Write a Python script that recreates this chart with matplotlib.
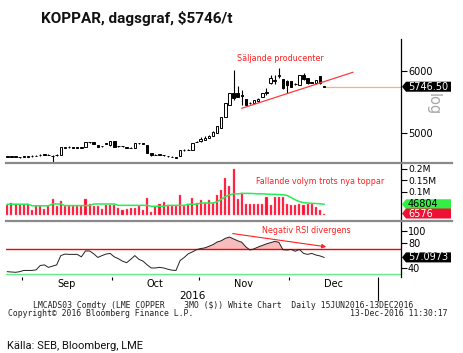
import matplotlib
matplotlib.use("Agg")
import matplotlib.pyplot as plt
import matplotlib.transforms as mtransforms
from matplotlib.patches import Polygon
from matplotlib.lines import Line2D
import numpy as np

# daily LME copper 3M, 25 Aug - 13 Dec 2016
opens = [4615, 4620, 4615, 4612, 4620, 4618, 4625, 4630, 4640, 4655,
         4650, 4635, 4640, 4650, 4765, 4770, 4775, 4768, 4760, 4780,
         4850, 4850, 4800, 4785, 4830, 4800, 4870, 4792, 4790, 4768,
         4760, 4760, 4838, 4830, 4806, 4670, 4648, 4650, 4642, 4628,
         4618, 4607, 4635, 4725, 4728, 4730, 4855, 4870, 4895, 4925,
         4950, 5005, 5090, 5263, 5452, 5640, 5640, 5610, 5545, 5490,
         5480, 5510, 5585, 5650, 5800, 5840, 5915, 5866, 5830, 5830,
         5795, 5775, 5935, 5880, 5815, 5800, 5910, 5750]
closes = [4620, 4615, 4620, 4610, 4625, 4620, 4630, 4635, 4650, 4650,
          4645, 4630, 4645, 4765, 4770, 4775, 4765, 4760, 4765, 4850,
          4850, 4830, 4775, 4790, 4834, 4870, 4780, 4790, 4785, 4760,
          4760, 4840, 4835, 4825, 4675, 4645, 4650, 4655, 4640, 4625,
          4615, 4605, 4725, 4725, 4730, 4830, 4860, 4900, 4920, 4950,
          5020, 5110, 5250, 5480, 5640, 5560, 5585, 5600, 5452, 5480,
          5530, 5540, 5640, 5665, 5880, 5855, 5930, 5720, 5775, 5750,
          5790, 5935, 5880, 5800, 5810, 5855, 5800, 5746.5]
highs = [4630, 4625, 4628, 4620, 4632, 4628, 4638, 4645, 4660, 4662,
         4655, 4640, 4655, 4770, 4780, 4785, 4775, 4770, 4772, 4855,
         4860, 4855, 4805, 4798, 4845, 4875, 4875, 4798, 4795, 4772,
         4768, 4845, 4845, 4835, 4810, 4675, 4660, 4662, 4650, 4635,
         4625, 4612, 4730, 4735, 4740, 4835, 4870, 4935, 4945, 4970,
         5025, 5115, 5265, 5485, 5645, 6016, 5750, 5694, 5550, 5505,
         5535, 5565, 5645, 5720, 5935, 5935, 6043, 5870, 5855, 5835,
         5800, 5940, 5960, 5885, 5825, 5860, 5915, 5755]
lows = [4605, 4605, 4608, 4600, 4612, 4610, 4618, 4622, 4635, 4640,
        4638, 4540, 4632, 4645, 4755, 4765, 4758, 4752, 4755, 4775,
        4840, 4825, 4770, 4780, 4825, 4795, 4775, 4782, 4778, 4752,
        4752, 4755, 4828, 4818, 4670, 4635, 4640, 4645, 4632, 4618,
        4605, 4595, 4630, 4715, 4720, 4725, 4850, 4855, 4885, 4915,
        4945, 5000, 5075, 5255, 5445, 5532, 5575, 5452, 5445, 5465,
        5475, 5495, 5580, 5613, 5795, 5790, 5880, 5715, 5640, 5745,
        5780, 5770, 5855, 5795, 5800, 5795, 5795, 5740]

volume = [43, 51, 50, 45, 42, 42, 21, 38, 38, 27,
          40, 68, 40, 59, 38, 38, 38, 38, 38, 71,
          46, 38, 41, 28, 45, 45, 42, 30, 22, 25,
          30, 30, 40, 20, 73, 15, 33, 46, 58, 38,
          38, 38, 88, 38, 45, 72, 54, 64, 54, 64,
          54, 87, 109, 160, 126, 199, 68, 94, 49, 49,
          47, 47, 49, 77, 44, 77, 80, 80, 49, 44,
          42, 47, 45, 47, 49, 35, 23, 6.576]  # thousands
vol_ma = [47, 47, 47, 47, 47, 47, 40, 40, 40, 40,
          40, 48, 48, 48, 41, 41, 41, 41, 41, 41,
          41, 48, 48, 48, 48, 48, 48, 42, 42, 42,
          42, 42, 42, 42, 42, 38, 38, 38, 38, 42,
          42, 42, 42, 42, 47, 47, 47, 52, 52, 52,
          52, 58, 68, 80, 87, 92, 92, 94, 94, 94,
          93, 92, 92, 91, 90, 90, 89, 88, 85, 76,
          66, 58, 54, 52, 51, 50, 49, 46.8]
rsi = [34, 33.5, 33, 34, 36, 36, 36, 37, 44, 45,
       41, 43, 45, 60, 62.5, 62, 62, 62, 58, 67.5,
       67.5, 63, 57, 60, 62.5, 63.5, 58, 55, 51, 48.5,
       54, 60, 54, 51, 45, 40, 40, 41, 40, 38,
       36.5, 36, 52, 57, 63, 66, 69.7, 71.4, 72.5, 75,
       77.8, 82, 84, 88, 90, 87, 84, 81.6, 74, 69,
       71, 74, 76.5, 79, 81, 83, 81.6, 69.5, 69, 70,
       67, 70, 63.6, 62, 63.6, 61, 59.5, 57.0973]

month_edges = [3.5, 25.5, 46.5, 68.5, 90.0]
month_names = ["Sep", "Oct", "Nov", "Dec"]

W, H = 464, 353
fig = plt.figure(figsize=(W / 100, H / 100), dpi=100)
fig.patch.set_facecolor("white")


def px_axes(x0, y0, x1, y1):
    return fig.add_axes([x0 / W, 1 - y1 / H, (x1 - x0) / W, (y1 - y0) / H])


ax1 = px_axes(6, 39, 401, 163)
ax2 = px_axes(6, 163, 401, 221)
ax3 = px_axes(6, 221, 401, 277)

xlim = (-0.32, 95.7)
for ax in (ax1, ax2, ax3):
    ax.set_xlim(*xlim)
    for s in ("left", "top", "bottom"):
        ax.spines[s].set_visible(False)
    ax.spines["right"].set_linewidth(0.9)
    ax.yaxis.tick_right()
    ax.tick_params(axis="y", direction="out", length=4, width=0.8,
                   labelsize=7, pad=1)
    ax.set_facecolor("white")

# candles
x = np.arange(len(closes))
o = np.array(opens); c = np.array(closes)
up = c >= o
ax1.vlines(x, lows, highs, color="black", lw=0.8, zorder=2)
ax1.bar(x, np.abs(c - o) + 3, bottom=np.minimum(o, c) - 1.5, width=0.6,
        color=np.where(up, "white", "black"), edgecolor="black", lw=0.7, zorder=3)
ax1.set_ylim(4516, 6516)
ax1.set_yticks([5000, 6000])
ax1.set_xticks([])
ax1.hlines(closes[-1], x[-1] + 0.3, xlim[1], color="#ffb35c", lw=0.9)
ax1.plot([57.0, 84], [5398, 5979], color="#ff3b3b", lw=0.9, zorder=4)
ax1.text(66.4, 6194, "Säljande producenter", color="#ff2020", fontsize=5.8,
         ha="center", va="center")
fig.text(433 / W, 1 - 104 / H, "log", rotation=270, color="#a8a8a8",
         fontsize=10.5, ha="center", va="center")

# volume
vol = np.array(volume) * 1000
ax2.bar(x, vol, width=0.5, color="#ff0a2e", edgecolor="#ff7f90", lw=0.3)
ax2.plot(x, np.array(vol_ma) * 1000, color="#22ee55", lw=1.1)
ax2.set_ylim(-26000, 226000)
ax2.set_yticks([100000, 150000, 200000])
ax2.set_yticklabels(["0.1M", "0.15M", "0.2M"])
ax2.tick_params(axis="y", labelsize=6.6)
ax2.set_xticks([])
ax2.text(76, 145000, "Fallande volym trots nya toppar", color="#ff2020",
         fontsize=5.8, ha="center", va="center")

# RSI
r = np.array(rsi)
ax3.fill_between(x, 70, r, where=r >= 70, interpolate=True,
                 color="#f9bcbc", lw=0)
ax3.axhline(70, color="#ff0000", lw=1)
ax3.axhline(30, color="#66ee88", lw=1)
ax3.plot(x, r, color="#222222", lw=0.7)
ax3.set_ylim(25.4, 116)
ax3.set_yticks([40, 80, 100])
ax3.annotate("", xy=(78.2, 73.6), xytext=(54.1, 96.3),
             arrowprops=dict(arrowstyle="-|>", color="#ff2020", lw=0.8,
                             mutation_scale=6))
ax3.text(72.8, 100, "Negativ RSI divergens", color="#ff2020", fontsize=5.8,
         ha="center", va="center")
ax3.set_xticks(month_edges)
ax3.set_xticklabels([])
ax3.tick_params(axis="x", which="major", direction="out", length=2.5,
                width=0.8)
ax3.xaxis.get_major_ticks()[-1].tick1line.set_markersize(17)
mids = [(a + b) / 2 for a, b in zip(month_edges[:-1], month_edges[1:])]
ax3.set_xticks(mids, minor=True)
ax3.set_xticklabels(month_names, minor=True)
ax3.tick_params(axis="x", which="minor", length=0, labelsize=7, pad=1.5)


def tag(ax, yval, text, face, tcolor):
    base = mtransforms.blended_transform_factory(ax.transAxes, ax.transData)
    tr = mtransforms.Affine2D() + mtransforms.ScaledTranslation(1.0, yval, base)
    verts = [(1, 0), (5, -5), (50, -5), (50, 5), (5, 5)]
    fig.add_artist(Polygon(verts, closed=True, transform=tr, facecolor=face,
                           edgecolor="none", zorder=5))
    t = fig.text(0, 0, text, color=tcolor, fontsize=7, ha="left", va="center",
                 zorder=6)
    t.set_transform(mtransforms.Affine2D().translate(7, 0)
                    + mtransforms.ScaledTranslation(1.0, yval, base))


tag(ax1, closes[-1], "5746.50", "black", "white")
tag(ax2, vol_ma[-1] * 1000, "46804", "#33ee44", "black")
tag(ax2, volume[-1] * 1000, "6576", "#ee1133", "white")
tag(ax3, rsi[-1], "57.0973", "black", "white")

# separators
for yy in (163, 221):
    fig.add_artist(Line2D([6 / W, 452 / W], [1 - yy / H] * 2,
                          color="#8a8a8a", lw=1.6, transform=fig.transFigure))

fig.text(41 / W, 1 - 18 / H, "KOPPAR, dagsgraf, $5746/t", fontsize=11,
         fontweight="bold", family=["Roboto", "DejaVu Sans"],
         ha="left", va="center", color="#111111")
fig.text(192 / W, 1 - 296 / H, "2016", fontsize=7.5, ha="center", va="center")
mono = dict(fontsize=5.9, family="DejaVu Sans Mono", va="center",
            color="#222222")
fig.text(33 / W, 1 - 305 / H,
         "LMCADS03 Comdty (LME COPPER    3MO ($)) White Chart  Daily 15JUN2016-13DEC2016",
         ha="left", **mono)
fig.text(8 / W, 1 - 314 / H, "Copyright\u00a9 2016 Bloomberg Finance L.P.",
         ha="left", **mono)
fig.text(448 / W, 1 - 314 / H, "13-Dec-2016 11:30:17", ha="right", **mono)
fig.text(7 / W, 1 - 346 / H, "Källa: SEB, Bloomberg, LME", fontsize=8,
         family=["Roboto", "DejaVu Sans"], ha="left",
         va="center", color="#111111")

fig.savefig("out.png", dpi=100)
